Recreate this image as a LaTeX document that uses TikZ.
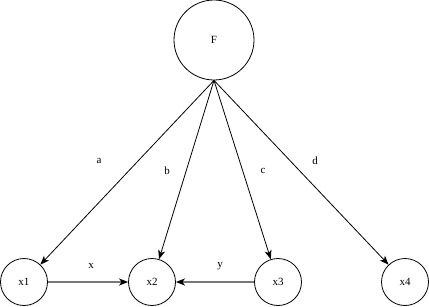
\documentclass[tikz,border=0pt]{standalone}
\usepackage{fontspec}
\setmainfont{Liberation Serif}
\usetikzlibrary{arrows.meta}
\definecolor{lgray}{RGB}{120,120,120}
\begin{document}
\begin{tikzpicture}[x=1pt,y=-1pt,
  nd/.style={circle,draw=black,line width=0.8pt,minimum size=47pt,inner sep=0pt,font=\fontsize{11}{13}\selectfont},
  big/.style={circle,draw=black,line width=0.8pt,minimum size=80pt,inner sep=0pt,font=\fontsize{11}{13}\selectfont},
  conn/.style={draw=black,line width=0.8pt,-{Stealth[length=9pt,width=7pt,inset=2.5pt]}},
  gconn/.style={draw=lgray,line width=2pt,-{Stealth[length=9pt,width=7pt,inset=2.5pt,color=black]}},
  lbl/.style={font=\fontsize{11}{13}\selectfont,inner sep=0pt}]
\useasboundingbox (0,0) rectangle (429,306);
\node[big] (F) at (214,40) {F};
\node[nd] (x1) at (24,282) {x1};
\node[nd] (x2) at (152,282) {x2};
\node[nd] (x3) at (278,282) {x3};
\node[nd] (x4) at (405,282) {x4};
\draw[conn] (F.south) -- (x1);
\draw[conn] (F.south) -- (x2);
\draw[conn] (F.south) -- (x3);
\draw[conn] (F.south) -- (x4);
\draw[gconn] (x1) -- (x2);
\draw[gconn] (x3) -- (x2);
\node[lbl] (la) at (99,161) {a};
\node[lbl] (lb) at (167,171) {b};
\node[lbl] (lc) at (263,171) {c};
\node[lbl] (ld) at (315,161) {d};
\node[lbl] (lx) at (91,266) {x};
\node[lbl] (ly) at (220,266) {y};
\end{tikzpicture}
\end{document}
